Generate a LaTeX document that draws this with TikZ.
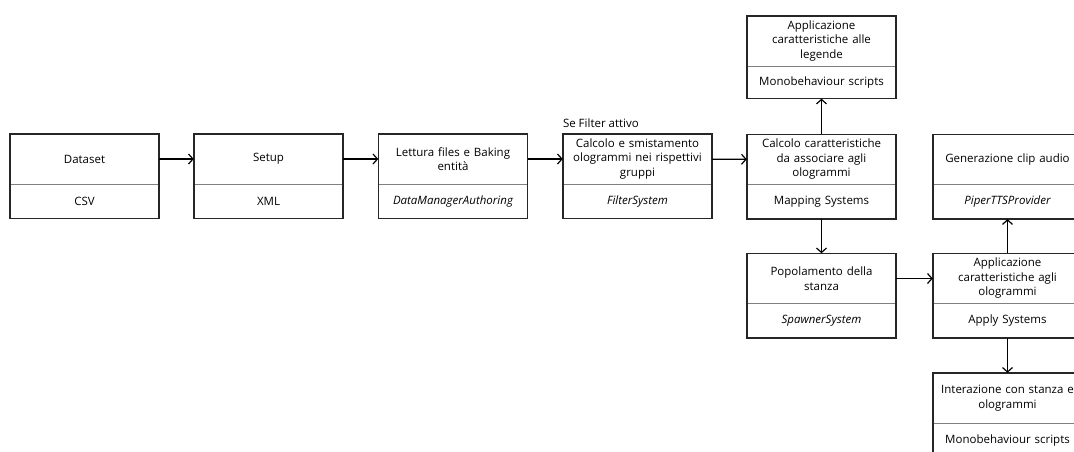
\documentclass[tikz,border=0pt]{standalone}
\usepackage{fontspec}
\setmainfont{Open Sans}
\usetikzlibrary{arrows.meta,positioning}

\begin{document}
\begin{tikzpicture}[x=1pt, y=-1pt,
    head/.style={text width=145pt, inner sep=2pt, minimum height=50pt, align=center, font=\fontsize{11.5}{14.5}\selectfont},
    tail/.style={head, minimum height=34pt},
    frame/.style={draw=black!85, line width=1.5pt},
    sep/.style={draw=black!50, line width=0.8pt},
    arr/.style={-{Straight Barb[length=4.5pt,width=10pt]}, line width=1.2pt},
    lbl/.style={font=\fontsize{11.5}{14.5}\selectfont, inner sep=0pt}
]
\useasboundingbox (0,0) rectangle (1074,451);

% main row
\node[head] (dataset) at (84.5,159) {Dataset};
\node[tail, below=0pt of dataset] (dataset-low) {CSV};
\node[head] (setup) at (268.5,159) {Setup};
\node[tail, below=0pt of setup] (setup-low) {XML};
\node[head] (lettura) at (453,159) {Lettura files e Baking\\entità};
\node[tail, below=0pt of lettura] (lettura-low) {\itshape DataManagerAuthoring};
\node[head] (filter) at (637.5,159) {Calcolo e smistamento\\ologrammi nei rispettivi\\gruppi};
\node[tail, below=0pt of filter] (filter-low) {\itshape FilterSystem};
\node[lbl, anchor=south west] (cond) at ([yshift=6pt]filter.north west) {Se Filter attivo};
\node[head] (mapping) at (821.5,159.5) {Calcolo caratteristiche\\da associare agli\\ologrammi};
\node[tail, below=0pt of mapping] (mapping-low) {Mapping Systems};

% right part
\node[head] (legende) at (821.5,41) {Applicazione\\caratteristiche alle\\legende};
\node[tail, below=0pt of legende, minimum height=32pt] (legende-low) {Monobehaviour scripts};
\node[head] (popolamento) at (821.5,278.5) {Popolamento della\\stanza};
\node[tail, below=0pt of popolamento] (popolamento-low) {\itshape SpawnerSystem};
\node[head] (generazione) at (1007.5,159.5) {Generazione clip audio};
\node[tail, below=0pt of generazione] (generazione-low) {\itshape PiperTTSProvider};
\node[head] (applica) at (1007.5,278.5) {Applicazione\\caratteristiche agli\\ologrammi};
\node[tail, below=0pt of applica] (applica-low) {Apply Systems};
\node[head] (interazione) at (1007.5,398) {Interazione con stanza e\\ologrammi};
\node[tail, below=0pt of interazione] (interazione-low) {Monobehaviour scripts};

% box outlines
\foreach \n in {dataset,setup,lettura,filter,mapping,legende,popolamento,generazione,applica,interazione} {
  \draw[sep] (\n.south west) -- (\n.south east);
  \draw[frame] (\n.north west) rectangle (\n-low.south east);
}

\draw[arr] (dataset) -- (setup);
\draw[arr] (setup) -- (lettura);
\draw[arr] (lettura) -- (filter);
\draw[arr] (filter) -- (mapping);
\draw[arr] (mapping) -- (legende-low);
\draw[arr] (mapping-low) -- (popolamento);
\draw[arr] (popolamento) -- (applica);
\draw[arr] (applica) -- (generazione-low);
\draw[arr] (applica-low) -- (interazione);
\end{tikzpicture}
\end{document}
